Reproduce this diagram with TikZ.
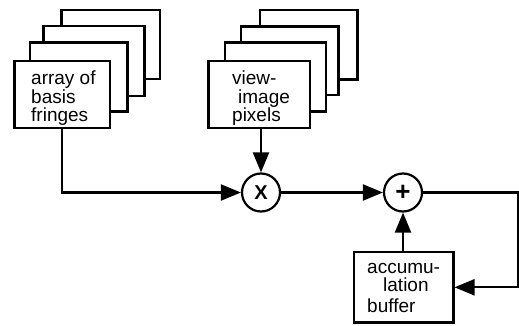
\documentclass[tikz,border=0pt]{standalone}
\usepackage{fontspec}
\setmainfont{Liberation Sans}
\usetikzlibrary{arrows.meta}
\begin{document}
\begin{tikzpicture}[x=1pt,y=-1pt,
  card/.style={draw, fill=white, line width=2.6pt},
  frontcard/.style={card, inner sep=0pt},
  lbl/.style={anchor=base west, inner sep=0pt, align=left,
    font=\fontsize{19}{18.5}\selectfont},
  op/.style={circle, draw, fill=white, line width=2.2pt,
    minimum size=38pt, inner sep=0pt},
  wire/.style={line width=2.2pt, line join=miter},
  flow/.style={wire, -{Triangle[length=20pt,width=16pt]}}
]
\useasboundingbox (0,0) rectangle (519,326);

% stack of basis fringe cards
\draw[card] (61.7,10) rectangle (160,79);
\draw[card] (43.3,26) rectangle (144.3,96);
\draw[card] (30,42.3) rectangle (127.7,111.7);
\node[frontcard, minimum width=95.3pt, minimum height=67pt] (fringes) at (62.3,94.5) {};
% anchored at the baseline of the last line
\node[lbl] (fringestext) at (31,121.7) {array of\\basis\\fringes};

% stack of view-image pixel cards
\draw[card] (260,10) rectangle (357.3,79.3);
\draw[card] (241,26.7) rectangle (338.3,95);
\draw[card] (225,42.3) rectangle (326,111.7);
\node[frontcard, minimum width=101.7pt, minimum height=67pt] (pixels) at (259.2,94.5) {};
\node[lbl] (pixelstext) at (232,121.7) {view-\\\hspace*{6pt}image\\pixels};

% accumulation buffer
\node[frontcard, minimum width=99.4pt, minimum height=70.7pt] (acc) at (403.5,287.3) {};
\node[lbl] (acctext) at (367,312.7) {accumu-\\[-1pt]\hspace*{16pt}lation\\[3pt]buffer};

% operators
\node[op] (mul) at (261,192.5) {\fontsize{20}{20}\selectfont\bfseries X};
\node[op] (add) at (403,192.5) {\fontsize{26}{26}\selectfont\bfseries +};

% connections
\coordinate (edge) at (518,250);
\draw[flow] (fringes.south) |- (mul.west);
\draw[flow] (mul.north |- pixels.south) -- (mul.north);
\draw[flow] (mul.east) -- (add.west);
\draw[flow] (add.east) -| (edge) |- (acc.east);
\draw[flow] (add.south |- acc.north) -- (add.south);
\end{tikzpicture}
\end{document}
